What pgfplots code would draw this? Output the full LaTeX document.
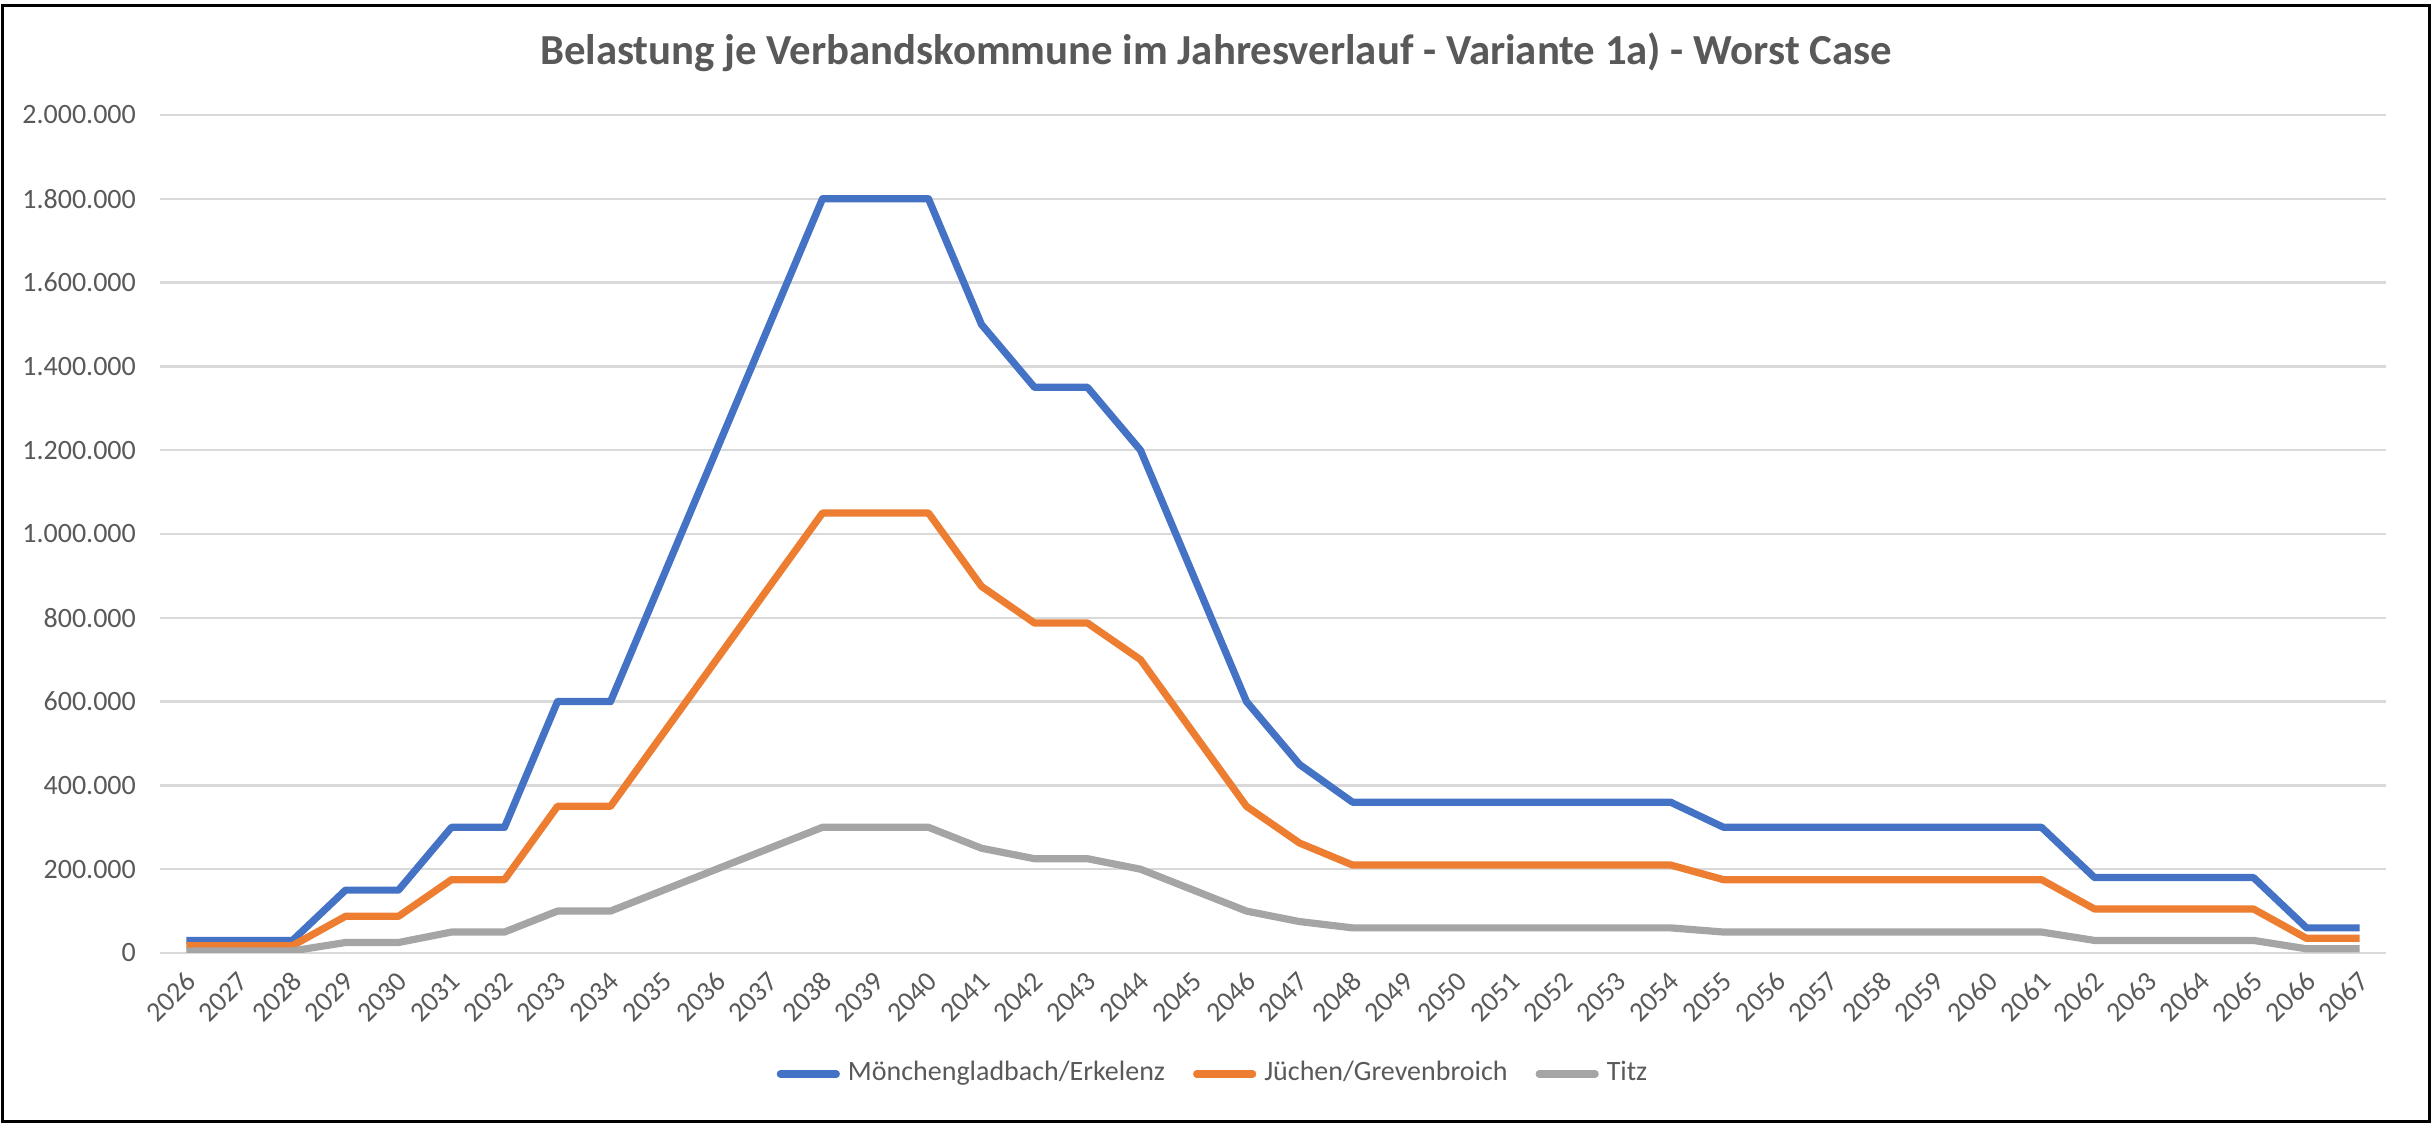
\documentclass[border=0pt]{standalone}
\usepackage{pgfplots}
\pgfplotsset{compat=1.18}
\usepackage{pgfplotstable}
\usepackage{fontspec}
\setmainfont{Carlito}
\definecolor{cblue}{HTML}{4472C4}
\definecolor{corange}{HTML}{ED7D31}
\definecolor{cgray}{HTML}{A5A5A5}
\definecolor{ctext}{HTML}{595959}
\definecolor{cgrid}{HTML}{D9D9D9}
\pgfplotstableread{
year blue orange gray
2026 30000 17500 5000
2027 30000 17500 5000
2028 30000 17500 5000
2029 150000 87500 25000
2030 150000 87500 25000
2031 300000 175000 50000
2032 300000 175000 50000
2033 600000 350000 100000
2034 600000 350000 100000
2035 900000 525000 150000
2036 1200000 700000 200000
2037 1500000 875000 250000
2038 1800000 1050000 300000
2039 1800000 1050000 300000
2040 1800000 1050000 300000
2041 1500000 875000 250000
2042 1350000 787500 225000
2043 1350000 787500 225000
2044 1200000 700000 200000
2045 900000 525000 150000
2046 600000 350000 100000
2047 450000 262500 75000
2048 360000 210000 60000
2049 360000 210000 60000
2050 360000 210000 60000
2051 360000 210000 60000
2052 360000 210000 60000
2053 360000 210000 60000
2054 360000 210000 60000
2055 300000 175000 50000
2056 300000 175000 50000
2057 300000 175000 50000
2058 300000 175000 50000
2059 300000 175000 50000
2060 300000 175000 50000
2061 300000 175000 50000
2062 180000 105000 30000
2063 180000 105000 30000
2064 180000 105000 30000
2065 180000 105000 30000
2066 60000 35000 10000
2067 60000 35000 10000
}\data
\begin{document}
\begin{tikzpicture}
\useasboundingbox (0,0) rectangle (608.25pt,281pt);
\draw[black, line width=0.6pt] (0.6pt,0.6pt) rectangle (607.4pt,279.6pt);
\node[font=\fontsize{10.7}{12}\selectfont\bfseries, text=ctext] at (304pt,268pt) {Belastung je Verbandskommune im Jahresverlauf - Variante 1a) - Worst Case};
\begin{axis}[
  at={(40pt,42.75pt)}, anchor=south west,
  scale only axis, width=556.5pt, height=209.5pt,
  xmin=2025.5, xmax=2067.5, ymin=0, ymax=2000000,
  xtick={2026,...,2067}, ytick={0,200000,...,2000000},
  scaled y ticks=false,
  axis line style={draw=none},
  major tick length=0pt,
  ymajorgrids, grid style={cgrid, line width=0.6pt},
  tick label style={font=\fontsize{7}{8}\selectfont, text=ctext},
  /pgf/number format/assume math mode=true,
  yticklabel style={/pgf/number format/.cd, fixed, precision=0, 1000 sep={.}, /tikz/.cd, xshift=-2.5pt},
  xticklabel style={/pgf/number format/.cd, 1000 sep={}, /tikz/.cd, rotate=45, anchor=east, yshift=-5pt, xshift=0pt},
  legend style={at={(0.4744,-0.1444)}, anchor=center, draw=none, fill=none,
    legend columns=-1, font=\fontsize{7}{8}\selectfont, text=ctext,
    /tikz/every even column/.append style={column sep=5pt}},
  legend image code/.code={\draw[#1, line width=1.8pt, line cap=round] (0pt,0pt) -- (14pt,0pt);},
  every axis plot/.append style={line width=1.8pt, no markers, line join=round},
]
\addplot[cblue] table[x=year, y=blue] {\data};
\addlegendentry{Mönchengladbach/Erkelenz}
\addplot[corange] table[x=year, y=orange] {\data};
\addlegendentry{Jüchen/Grevenbroich}
\addplot[cgray] table[x=year, y=gray] {\data};
\addlegendentry{Titz}
\end{axis}
\end{tikzpicture}
\end{document}
